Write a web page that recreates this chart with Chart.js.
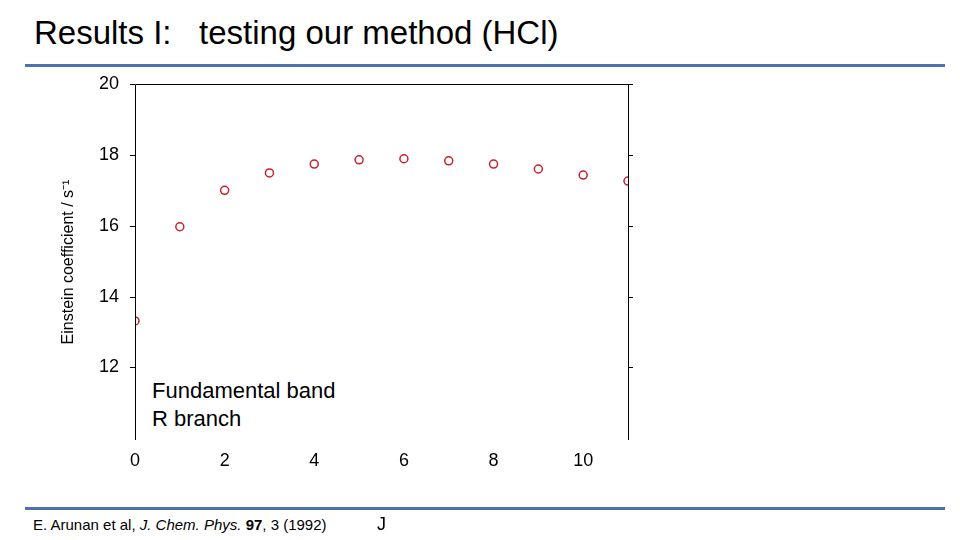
<!DOCTYPE html>
<html><head><meta charset="utf-8">
<script src="https://cdn.jsdelivr.net/npm/chart.js@4"></script>
<style>
body{margin:0;width:960px;height:540px;position:relative;background:#fff;font-family:"Liberation Sans",Arial,sans-serif;overflow:hidden}
#t{position:absolute;left:34px;top:14px;font-size:33px;color:#000;white-space:pre}
.rule{position:absolute;left:25px;width:920px;height:3px;background:#4a73b0}
#ann{position:absolute;left:152px;top:377px;font-size:22px;line-height:28px}
#cite{position:absolute;left:33px;top:516px;font-size:15px}
canvas{position:absolute;left:0;top:0}
</style></head><body>
<div id="t">Results I:   testing our method (HCl)</div>
<div class="rule" style="top:64px"></div>
<div class="rule" style="top:507px"></div>
<div id="ann">Fundamental band<br>R branch</div>
<div id="cite">E. Arunan et al, <i>J. Chem. Phys.</i> <b>97</b>, 3 (1992)</div>
<canvas id="c" width="960" height="540"></canvas>
<script>
const J = [0,1,2,3,4,5,6,7,8,9,10,11];
const einstein = [13.31,15.97,17.0,17.49,17.74,17.86,17.89,17.83,17.74,17.6,17.43,17.26];
const xTicks = [0,2,4,6,8,10];
const yTicks = [12,14,16,18,20];
const pts = J.map((x,i)=>({x,y:einstein[i]}));
const frame = {id:'frame',afterDraw(ch){const {ctx,chartArea:a}=ch;ctx.save();ctx.strokeStyle='#000';ctx.lineWidth=1;
 ctx.beginPath();ctx.moveTo(a.left+.5,a.bottom);ctx.lineTo(a.left+.5,a.top+.5);ctx.lineTo(a.right+.5,a.top+.5);ctx.lineTo(a.right+.5,a.bottom);ctx.stroke();
 const ys=ch.scales.y;yTicks.forEach(v=>{const p=Math.round(ys.getPixelForValue(v))+.5;ctx.beginPath();ctx.moveTo(a.left-5,p);ctx.lineTo(a.left,p);ctx.moveTo(a.right,p);ctx.lineTo(a.right+5,p);ctx.stroke();});
 ctx.restore();}};
new Chart(document.getElementById('c'),{type:'scatter',
 data:{datasets:[
  {data:pts,pointRadius:4,pointBorderWidth:1.5,pointBorderColor:'#c8202a',pointBackgroundColor:'#fff'},
  {data:pts,pointRadius:1,pointBorderWidth:0,pointBackgroundColor:'#c8202a'}]},
 options:{responsive:false,animation:false,events:[],
  layout:{padding:{left:55,top:84,right:332,bottom:0}},
  plugins:{legend:{display:false},tooltip:{enabled:false}},
  scales:{
   x:{type:'linear',min:0,max:11,grid:{display:false},border:{display:false},
    afterBuildTicks(s){s.ticks=xTicks.map(v=>({value:v}));},
    afterFit(s){s.height=100;},
    ticks:{color:'#000',font:{family:'Liberation Sans',size:18},padding:2,maxRotation:0},
    title:{display:true,text:'J',color:'#000',font:{family:'Liberation Sans',size:18},padding:{top:0}}},
   y:{min:9.95,max:20,grid:{display:false},border:{display:false},
    afterBuildTicks(s){s.ticks=yTicks.map(v=>({value:v}));},
    afterFit(s){s.width=80;},
    ticks:{color:'#000',font:{family:'Liberation Sans',size:18},padding:8},
    title:{display:true,text:'Einstein coefficient / s⁻¹',color:'#000',font:{family:'Liberation Sans',size:16},padding:{bottom:0}}}
  }},
 plugins:[frame]});
</script></body></html>
